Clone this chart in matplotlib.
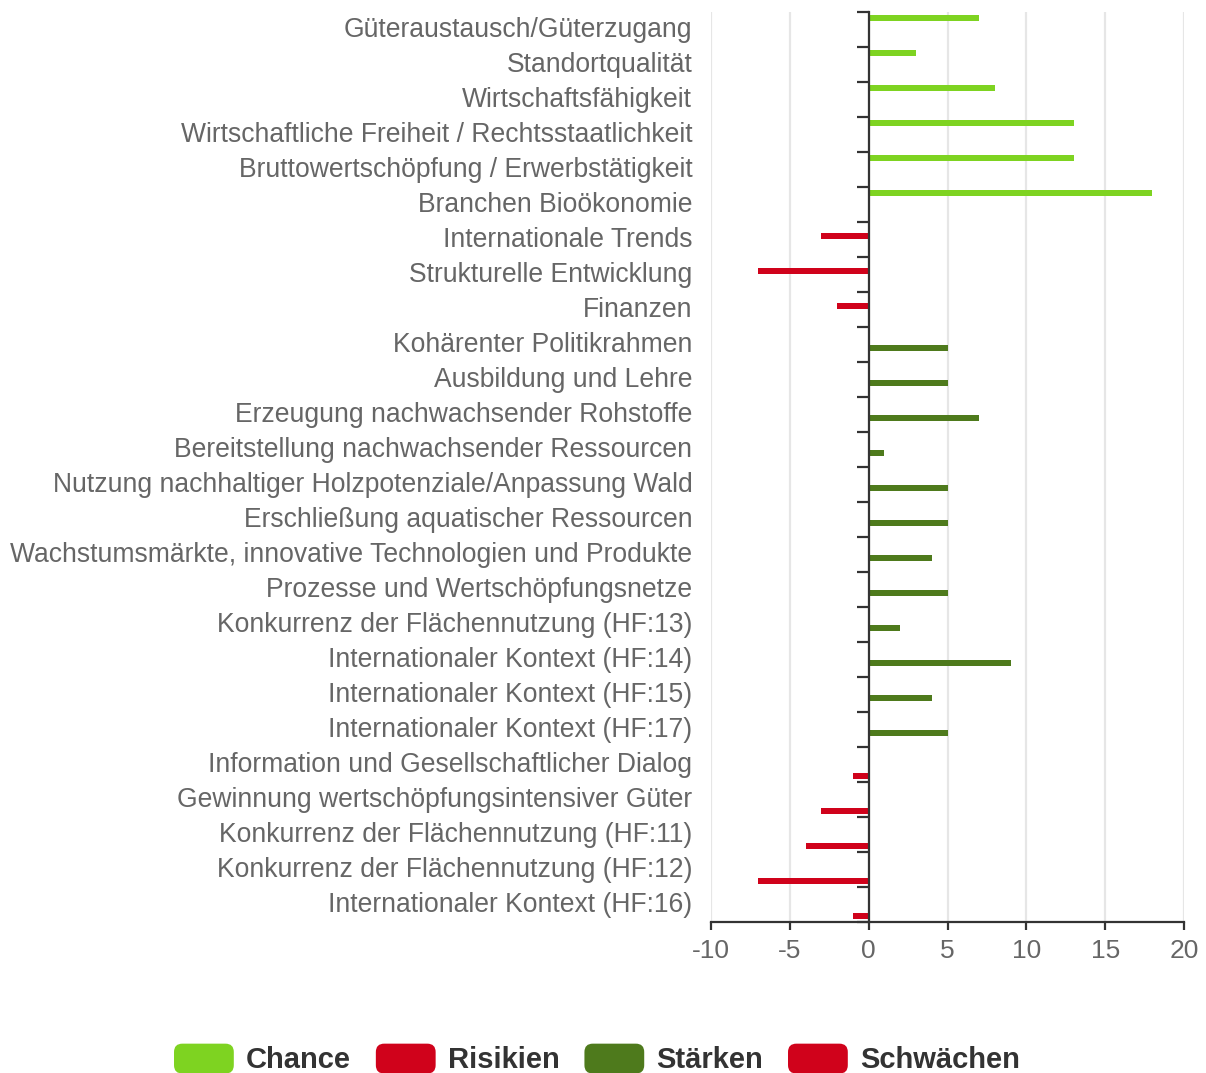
#-*- coding:utf-8 -*-

# Importation des modules
import numpy as np
import matplotlib
matplotlib.use("Agg")
import matplotlib.pyplot as plt
from matplotlib.patches import FancyBboxPatch, Patch
from matplotlib.legend_handler import HandlerPatch
from matplotlib.transforms import ScaledTranslation


# Données du graphique
categories = [
	"Güteraustausch/Güterzugang",
	"Standortqualität",
	"Wirtschaftsfähigkeit",
	"Wirtschaftliche Freiheit / Rechtsstaatlichkeit",
	"Bruttowertschöpfung / Erwerbstätigkeit",
	"Branchen Bioökonomie",
	"Internationale Trends",
	"Strukturelle Entwicklung",
	"Finanzen",
	"Kohärenter Politikrahmen",
	"Ausbildung und Lehre",
	"Erzeugung nachwachsender Rohstoffe",
	"Bereitstellung nachwachsender Ressourcen",
	"Nutzung nachhaltiger Holzpotenziale/Anpassung Wald",
	"Erschließung aquatischer Ressourcen",
	"Wachstumsmärkte, innovative Technologien und Produkte",
	"Prozesse und Wertschöpfungsnetze",
	"Konkurrenz der Flächennutzung (HF:13)",
	"Internationaler Kontext (HF:14)",
	"Internationaler Kontext (HF:15)",
	"Internationaler Kontext (HF:17)",
	"Information und Gesellschaftlicher Dialog",
	"Gewinnung wertschöpfungsintensiver Güter",
	"Konkurrenz der Flächennutzung (HF:11)",
	"Konkurrenz der Flächennutzung (HF:12)",
	"Internationaler Kontext (HF:16)",
]

chance = [7, 3, 8, 13, 13, 18, 0, 0, 0, 0, 0, 0, 0, 0, 0, 0, 0, 0, 0, 0, 0, 0, 0, 0, 0, 0]
risikien = [0, 0, 0, 0, 0, 0, -3, -7, -2, 0, 0, 0, 0, 0, 0, 0, 0, 0, 0, 0, 0, 0, 0, 0, 0, 0]
staerken = [0, 0, 0, 0, 0, 0, 0, 0, 0, 5, 5, 7, 1, 5, 5, 4, 5, 2, 9, 4, 5, 0, 0, 0, 0, 0]
schwaechen = [0, 0, 0, 0, 0, 0, 0, 0, 0, 0, 0, 0, 0, 0, 0, 0, 0, 0, 0, 0, 0, -1, -3, -4, -7, -1]

series_names = ["Chance", "Risikien", "Stärken", "Schwächen"]
series_colors = ["#7ed321", "#d0021b", "#4e7a1c", "#d0021b"]

x_ticks = [-10, -5, 0, 5, 10, 15, 20]


class HandlerRoundPatch(HandlerPatch):
	"""Carré de légende aux coins arrondis."""
	def create_artists(self, legend, orig_handle, xdescent, ydescent,
			width, height, fontsize, trans):
		p = FancyBboxPatch(
			(-xdescent, -ydescent), width, height,
			boxstyle="round,pad=0,rounding_size=6",
			facecolor=orig_handle.get_facecolor(),
			edgecolor="none",
			transform=trans
		)
		return [p]


# Police
plt.rcParams["font.family"] = ["Liberation Sans", "DejaVu Sans"]

# Création de la figure
fig = plt.figure(figsize=(12.06, 10.73), dpi=100)
ax = fig.add_axes([711 / 1206, 1 - 922 / 1073, 473 / 1206, 910 / 1073])

# Barres groupées
y = np.arange(len(categories))
offsets = [-0.32, -0.107, 0.107, 0.32]
for values, offset, color in zip([chance, risikien, staerken, schwaechen], offsets, series_colors):
	ax.barh(y + offset, values, height=0.17, color=color, zorder=3)

# Axes
ax.set_xlim(-10, 20)
ax.set_ylim(len(categories) - 0.5, -0.5)
ax.set_xticks(x_ticks)
ax.set_xticklabels([str(v) for v in x_ticks])
ax.grid(axis="x", color="#e6e6e6", linewidth=1.6, zorder=0)

ax.spines["top"].set_visible(False)
ax.spines["right"].set_visible(False)
ax.spines["left"].set_position(("data", 0))
for side in ["left", "bottom"]:
	ax.spines[side].set_color("#333333")
	ax.spines[side].set_linewidth(1.6)
	ax.spines[side].set_zorder(4)

# Étiquettes des catégories et traits de séparation
ax.set_yticks(y)
ax.set_yticklabels(categories)
ax.set_yticks(np.arange(len(categories) + 1) - 0.5, minor=True)
ax.tick_params(axis="y", which="major", length=0, pad=127, labelsize=19.1, labelcolor="#666666")
ax.tick_params(axis="y", which="minor", length=8.5, width=1.6, color="#333333")
ax.tick_params(axis="x", length=6, width=1.6, color="#333333", labelsize=19,
	labelcolor="#666666", pad=6)

# Léger décalage vertical des étiquettes
shift = ScaledTranslation(0, 2.5 / 100, fig.dpi_scale_trans)
for label in ax.get_yticklabels():
	label.set_transform(label.get_transform() + shift)

# Légende
handles = [Patch(facecolor=c, label=n) for n, c in zip(series_names, series_colors)]
leg = fig.legend(
	handles=handles,
	loc="center",
	bbox_to_anchor=(0.495, 0.013),
	ncol=4,
	frameon=False,
	handler_map={Patch: HandlerRoundPatch()},
	prop={"weight": "bold", "size": 21},
	handlelength=2.05,
	handleheight=1.2,
	handletextpad=0.42,
	columnspacing=0.85,
	borderpad=0
)
for text in leg.get_texts():
	text.set_color("#333333")

# Sauvegarde
fig.savefig("out.png", dpi=100)
